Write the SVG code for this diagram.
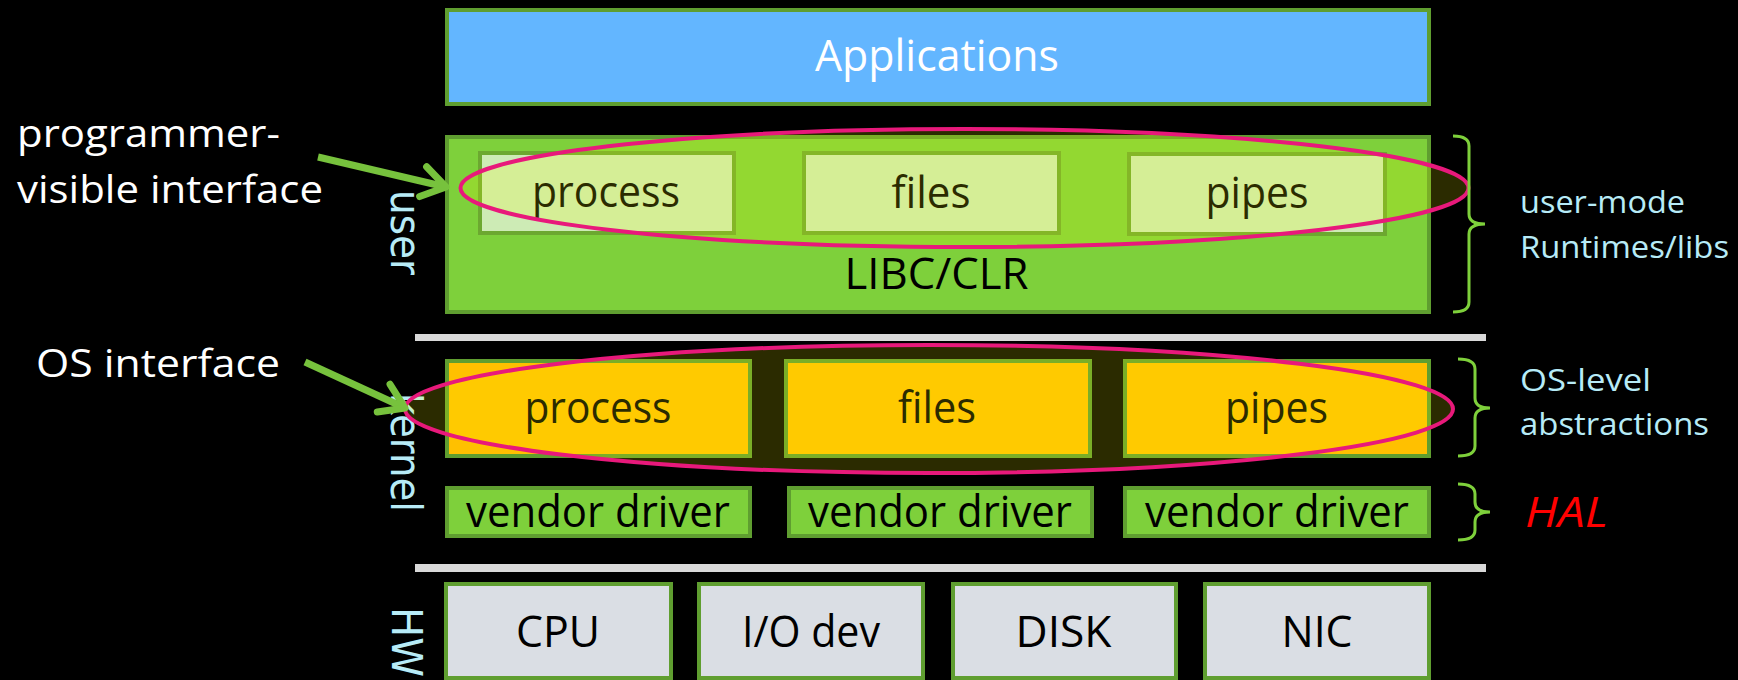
<svg xmlns="http://www.w3.org/2000/svg" width="1738" height="680" viewBox="0 0 1738 680">
<defs>
<style>
.bg{fill:#000}
.box{stroke:#5F9E30;stroke-width:4}
.app{fill:#63B6FF}
.lib{fill:#7ED03B}
.sub{fill:#CDEBB5;stroke:#6CA830;stroke-width:4}
.krn{fill:#FFC000}
.drv{fill:#7ED03B}
.hw{fill:#DADEE4}
.sep{fill:#D9D9D9}
.t{font-family:"Open Sans","Liberation Sans",sans-serif;font-size:44px;fill:#000;text-anchor:middle}
.tw{fill:#fff}
.lbl{font-family:"Open Sans","Liberation Sans",sans-serif;font-size:39px;fill:#fff}
.side{font-family:"Open Sans","Liberation Sans",sans-serif;font-size:31px;fill:#B7EBF7}
.hal{font-family:"Open Sans","Liberation Sans",sans-serif;font-size:42px;font-style:italic;fill:#FF0000}
.vert{font-family:"DejaVu Sans",sans-serif;font-size:43px;fill:#B7EBF7}
.ell{fill:rgba(255,255,0,0.17);stroke:#E8197B;stroke-width:4}
.brace{fill:none;stroke:#7ED03B;stroke-width:3}
.arrow{fill:none;stroke:#77C23D;stroke-width:7}
</style>
<marker id="ah" viewBox="-30 -20 34 40" refX="0" refY="0" markerWidth="34" markerHeight="40" markerUnits="userSpaceOnUse" orient="auto" overflow="visible">
<path d="M-23.5,-15.3 L0,0 L-23.5,15.3" fill="none" stroke="#77C23D" stroke-width="7" stroke-linecap="round" stroke-linejoin="round"/>
</marker>
</defs>
<rect class="bg" x="0" y="0" width="1738" height="680"/>

<g id="label-user"><text class="vert" x="391" y="190" transform="rotate(90 391 190)" textLength="85" lengthAdjust="spacingAndGlyphs">user</text></g>
<g id="label-kernel"><text class="vert" x="391" y="393" transform="rotate(90 391 393)" textLength="119" lengthAdjust="spacingAndGlyphs">kernel</text></g>
<g id="label-hw"><text class="vert" x="392" y="607" transform="rotate(90 392 607)" textLength="70" lengthAdjust="spacingAndGlyphs">HW</text></g>

<g id="applications">
<rect class="box app" x="447" y="10" width="982" height="94"/>
<text class="t tw" x="937" y="71" textLength="244" lengthAdjust="spacingAndGlyphs">Applications</text>
</g>

<g id="libc-clr">
<rect class="box lib" x="447" y="137" width="982" height="175"/>
<text class="t" x="936.5" y="289" textLength="184" lengthAdjust="spacingAndGlyphs">LIBC/CLR</text>
</g>
<g id="user-process">
<rect class="sub" x="480" y="153" width="254" height="80"/>
<text class="t" x="606" y="207" textLength="148" lengthAdjust="spacingAndGlyphs">process</text>
</g>
<g id="user-files">
<rect class="sub" x="804" y="153" width="255" height="80"/>
<text class="t" x="931" y="208" textLength="79" lengthAdjust="spacingAndGlyphs">files</text>
</g>
<g id="user-pipes">
<rect class="sub" x="1129" y="154" width="256" height="80"/>
<text class="t" x="1257" y="208" textLength="103" lengthAdjust="spacingAndGlyphs">pipes</text>
</g>

<rect id="sep-1" class="sep" x="415" y="334" width="1071" height="7"/>

<g id="kernel-process">
<rect class="box krn" x="447" y="361" width="303" height="95"/>
<text class="t" x="598" y="423" textLength="147" lengthAdjust="spacingAndGlyphs">process</text>
</g>
<g id="kernel-files">
<rect class="box krn" x="786" y="361" width="304" height="95"/>
<text class="t" x="937" y="423" textLength="78" lengthAdjust="spacingAndGlyphs">files</text>
</g>
<g id="kernel-pipes">
<rect class="box krn" x="1125" y="361" width="304" height="95"/>
<text class="t" x="1276.5" y="423" textLength="103" lengthAdjust="spacingAndGlyphs">pipes</text>
</g>

<g id="driver-1">
<rect class="box drv" x="447" y="488" width="303" height="48"/>
<text class="t" x="598" y="527" textLength="264" lengthAdjust="spacingAndGlyphs">vendor driver</text>
</g>
<g id="driver-2">
<rect class="box drv" x="789" y="488" width="303" height="48"/>
<text class="t" x="940" y="527" textLength="264" lengthAdjust="spacingAndGlyphs">vendor driver</text>
</g>
<g id="driver-3">
<rect class="box drv" x="1125" y="488" width="304" height="48"/>
<text class="t" x="1277" y="527" textLength="264" lengthAdjust="spacingAndGlyphs">vendor driver</text>
</g>

<rect id="sep-2" class="sep" x="415" y="564" width="1071" height="8"/>

<g id="hw-cpu">
<rect class="box hw" x="446" y="584" width="225" height="94"/>
<text class="t" x="558" y="647" textLength="84" lengthAdjust="spacingAndGlyphs">CPU</text>
</g>
<g id="hw-io">
<rect class="box hw" x="699" y="584" width="224" height="94"/>
<text class="t" x="811" y="647" textLength="138" lengthAdjust="spacingAndGlyphs">I/O dev</text>
</g>
<g id="hw-disk">
<rect class="box hw" x="953" y="584" width="223" height="94"/>
<text class="t" x="1063.5" y="647" textLength="96" lengthAdjust="spacingAndGlyphs">DISK</text>
</g>
<g id="hw-nic">
<rect class="box hw" x="1205" y="584" width="224" height="94"/>
<text class="t" x="1317" y="647" textLength="71" lengthAdjust="spacingAndGlyphs">NIC</text>
</g>

<g id="ellipse-programmer"><ellipse class="ell" cx="964.5" cy="188" rx="504" ry="59"/></g>
<g id="ellipse-os"><ellipse class="ell" cx="929" cy="409" rx="524" ry="64"/></g>

<g id="brace-user">
<path class="brace" d="M1453,136 Q1469,136 1469,146 L1469,214 Q1469,224 1485,224 Q1469,224 1469,234 L1469,302 Q1469,312 1453,312"/>
<text class="side" x="1520" y="213" textLength="165" lengthAdjust="spacingAndGlyphs">user-mode</text>
<text class="side" x="1520" y="258" textLength="209" lengthAdjust="spacingAndGlyphs">Runtimes/libs</text>
</g>
<g id="brace-os">
<path class="brace" d="M1458,359 Q1475,359 1475,369 L1475,398 Q1475,408 1490,408 Q1475,408 1475,418 L1475,446 Q1475,456 1458,456"/>
<text class="side" x="1520" y="391" textLength="131" lengthAdjust="spacingAndGlyphs">OS-level</text>
<text class="side" x="1520" y="435" textLength="189" lengthAdjust="spacingAndGlyphs">abstractions</text>
</g>
<g id="brace-hal">
<path class="brace" d="M1458,484 Q1475,484 1475,494 L1475,502 Q1475,512 1490,512 Q1475,512 1475,522 L1475,530 Q1475,540 1458,540"/>
<text class="hal" x="1525" y="527" textLength="83" lengthAdjust="spacingAndGlyphs">HAL</text>
</g>

<g id="label-programmer">
<text class="lbl" x="17" y="147" textLength="263" lengthAdjust="spacingAndGlyphs">programmer-</text>
<text class="lbl" x="17" y="203" textLength="306" lengthAdjust="spacingAndGlyphs">visible interface</text>
</g>
<g id="label-os">
<text class="lbl" x="36" y="377" textLength="244" lengthAdjust="spacingAndGlyphs">OS interface</text>
</g>

<g id="connectors">
<path class="arrow" d="M318,157 L446,187" marker-end="url(#ah)"/>
<path class="arrow" d="M305,362 L405,408" marker-end="url(#ah)"/>
</g>
</svg>
